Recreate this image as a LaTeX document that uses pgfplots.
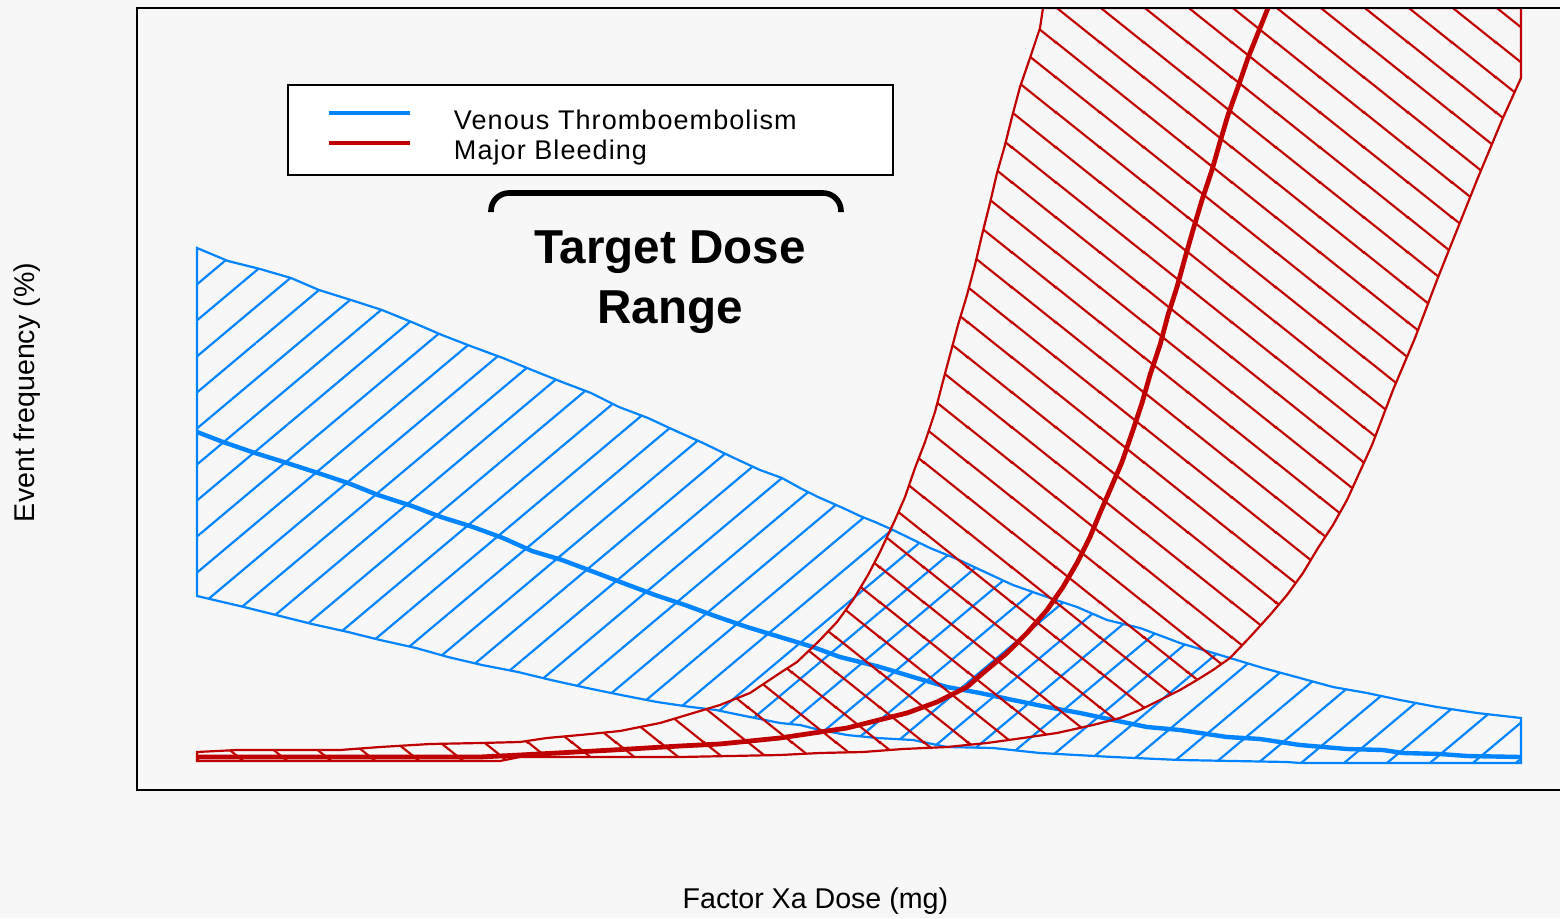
\documentclass[border=0pt]{standalone}
\usepackage{pgfplots}
\pgfplotsset{compat=1.18}
\usetikzlibrary{patterns.meta}
\usepackage{fontspec}
\setmainfont{Liberation Sans}
\newfontfamily\legfont[LetterSpace=4]{Liberation Sans}
\definecolor{vte}{RGB}{0,132,255}
\definecolor{mb}{RGB}{192,0,0}
\definecolor{bg}{RGB}{247,247,247}
\pgfdeclarepatternformonly{mbhatch}{\pgfpoint{0pt}{0pt}}{\pgfpoint{22.09pt}{17.67pt}}{\pgfpoint{22.09pt}{17.67pt}}{%
  \pgfsetlinewidth{1.1pt}%
  \pgfpathmoveto{\pgfpoint{-2.209pt}{19.437pt}}\pgfpathlineto{\pgfpoint{24.299pt}{-1.767pt}}%
  \pgfpathmoveto{\pgfpoint{-2.209pt}{1.767pt}}\pgfpathlineto{\pgfpoint{2.209pt}{-1.767pt}}%
  \pgfpathmoveto{\pgfpoint{19.881pt}{19.437pt}}\pgfpathlineto{\pgfpoint{24.299pt}{15.903pt}}%
  \pgfusepath{stroke}}

% VTE band: upper limit (left to right), then lower limit (right to left)
\pgfplotstableread{
x y
197 670
228 657
260 649
291 640
319 628
351 618
382 608
414 595
442 583
473 571
503 560
532 548
562 536
591 525
619 511
648 500
676 487
703 475
732 461
760 448
782 440
800 430
818 421
843 410
860 402
875 396
893 388
930 370
957 359
987 345
1013 333
1047 321
1077 311
1107 298
1140 290
1180 275
1230 260
1263 250
1300 240
1333 231
1367 225
1400 218
1437 211
1477 205
1521 200
1521 155
1300 155
1287 156
1180 158
1113 161
1040 165
993 170
947 171
913 178
877 180
847 183
820 188
800 193
780 195
745 202
716 208
691 211
657 216
621 223
587 230
551 238
518 246
482 253
448 261
416 270
380 278
348 286
312 294
280 302
244 311
197 322
}\vteband
% VTE central estimate
\pgfplotstableread{
x y
197 486
223 476
255 465
287 455
318 445
348 435
378 423
412 412
441 401
473 391
503 380
532 367
562 358
594 346
623 335
655 323
685 313
715 302
747 291
780 281
813 271
840 261
880 251
913 241
947 231
980 225
1013 218
1047 211
1080 205
1113 198
1147 191
1180 188
1227 181
1260 179
1300 173
1347 169
1383 168
1403 165
1440 164
1467 162
1521 161
}\vtemid
% Major bleeding band: upper limit (left to right), then lower limit (right to left)
\pgfplotstableread{
x y
197 166
237 168
340 168
380 171
430 174
480 175
520 176
547 180
580 183
620 187
660 195
680 201
720 213
750 225
780 245
797 256
818 276
837 296
853 318
868 343
880 366
895 398
905 421
915 450
925 476
935 506
942 533
950 563
958 593
967 623
975 653
982 683
990 715
997 745
1005 773
1012 801
1020 831
1030 860
1040 890
1043 910
1521 910
1521 840
1502 798
1477 738
1457 688
1437 638
1415 580
1393 528
1372 473
1347 418
1333 393
1318 370
1303 345
1287 323
1270 303
1250 281
1230 260
1213 248
1197 238
1180 228
1160 218
1140 208
1120 200
1093 193
1057 185
1023 180
987 175
947 171
903 169
863 166
820 165
780 163
680 161
520 161
500 157
197 157
}\mbband
% Major bleeding central estimate
\pgfplotstableread{
x y
197 161
480 161
520 163
613 168
680 172
720 174
780 180
847 190
907 205
937 216
967 231
983 245
1007 265
1027 285
1047 308
1063 331
1077 355
1090 381
1100 405
1110 428
1122 456
1132 485
1142 515
1150 543
1160 573
1168 603
1177 631
1185 660
1193 688
1202 718
1212 748
1220 776
1228 803
1238 831
1248 860
1260 890
1268 910
}\mbmid

\begin{document}
\begin{tikzpicture}
\fill[bg] (-68.5pt,-64pt) rectangle (711.5pt,395pt);
\begin{axis}[
  scale only axis, width=712.5pt, height=391pt,
  xmin=137, xmax=1562, ymin=128, ymax=910,
  axis on top,
  xtick=\empty, ytick=\empty,
  axis line style={line width=1.3pt},
  xlabel={Factor Xa Dose (mg)},
  ylabel={Event frequency (\%)},
  every axis x label/.style={at={(axis description cs:0.4761,-0.1509)}, anchor=base, font=\fontsize{14.3}{17}\selectfont},
  every axis y label/.style={at={(axis description cs:-0.0716,0.5083)}, rotate=90, anchor=base, font=\fontsize{14.3}{17}\selectfont},
  legend style={
    at={(axis cs:287,834)}, anchor=north west,
    draw=black, line width=1pt, fill=white,
    inner xsep=0pt, inner ysep=5pt,
    row sep=-5pt, column sep=0pt,
    cells={anchor=base west},
    nodes={inner sep=0pt, text height=10pt, text depth=3pt},
    font=\legfont\fontsize{13.5}{16}\selectfont,
  },
  legend image code/.code={
    \path[draw=none, fill=none] (0pt,-3pt) rectangle (83pt,17pt);
    \draw[#1] (20.5pt,8pt) -- (61pt,8pt);
  },
]
% ---------- Venous thromboembolism ----------
\addplot[draw=vte, line width=1.1pt, pattern={Lines[angle=40, distance=13.8pt, line width=1.1pt]}, pattern color=vte, forget plot]
  table {\vteband} -- cycle;
\addplot[vte, line width=2.2pt, forget plot] table {\vtemid};
% ---------- Major bleeding ----------
\addplot[draw=mb, line width=1.1pt, pattern=mbhatch, pattern color=mb, forget plot]
  table {\mbband} -- cycle;
\addplot[mb, line width=2.4pt, forget plot] table {\mbmid};
% ---------- legend ----------
\addlegendimage{vte, line width=1.6pt}
\addlegendentry{\makebox[219.5pt][l]{Venous Thromboembolism}}
\addlegendimage{mb, line width=1.6pt}
\addlegendentry{\makebox[219.5pt][l]{Major Bleeding}}
% ---------- target dose range ----------
\draw[line width=2.8pt, rounded corners=9pt] (axis cs:491,706) -- (axis cs:491,725) -- (axis cs:841,725) -- (axis cs:841,706);
\node[anchor=base, font=\bfseries\fontsize{23.8}{28}\selectfont] at (axis cs:670,655) {Target Dose};
\node[anchor=base, font=\bfseries\fontsize{23.8}{28}\selectfont] at (axis cs:670,595) {Range};
\end{axis}
\pgfresetboundingbox
\path[use as bounding box] (-68.5pt,-64pt) rectangle (711.5pt,395pt);
\end{tikzpicture}
\end{document}
